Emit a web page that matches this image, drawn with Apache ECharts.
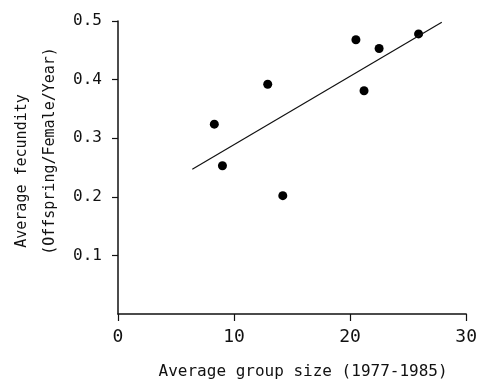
<!DOCTYPE html>
<html>
<head>
<meta charset="utf-8">
<script src="https://cdn.jsdelivr.net/npm/echarts@6/dist/echarts.min.js"></script>
<style>
  html, body { margin: 0; padding: 0; background: #fff; }
  #chart { width: 480px; height: 385px; }
</style>
</head>
<body>
<div id="chart"></div>
<script>
// group size (x) vs fecundity (y)
const groupSize = [8.3, 9.0, 12.9, 14.2, 20.5, 21.2, 22.5, 25.9];
const fecundity = [0.324, 0.253, 0.392, 0.202, 0.468, 0.381, 0.453, 0.478];

// fitted regression line end points
const fitX = [6.4, 27.9];
const fitY = [0.247, 0.498];

const xTicks = [0, 10, 20, 30];
const yTicks = [0.1, 0.2, 0.3, 0.4, 0.5];

// lettering in the original is near-monospaced
const font = "DejaVu Sans Mono";

const chart = echarts.init(document.getElementById("chart"));

chart.setOption({
    backgroundColor: "#fff",
    animation: false,
    grid: { left: 118, right: 13, top: 21, bottom: 69 },
    xAxis: {
        type: "value",
        min: xTicks[0],
        max: xTicks[xTicks.length - 1],
        interval: 10,
        splitLine: { show: false },
        axisLine: { lineStyle: { color: "#111", width: 1.5 } },
        axisTick: { length: 7, lineStyle: { color: "#111", width: 1.2 } },
        axisLabel: { color: "#111", fontFamily: font, fontSize: 18, margin: 14 },
        name: "Average group size (1977-1985)",
        nameLocation: "middle",
        nameGap: 50,
        nameTextStyle: {
            color: "#111", fontFamily: font, fontSize: 16,
            padding: [0, 0, 0, 22]
        }
    },
    yAxis: {
        type: "value",
        min: 0,
        max: yTicks[yTicks.length - 1],
        interval: 0.1,
        splitLine: { show: false },
        axisLine: { lineStyle: { color: "#111", width: 1.5 } },
        // no tick or label at 0 in the original
        axisTick: {
            customValues: yTicks,
            length: 6,
            lineStyle: { color: "#111", width: 1.2 }
        },
        axisLabel: {
            customValues: yTicks,
            color: "#111", fontFamily: font, fontSize: 16, margin: 16,
            formatter: v => v.toFixed(1)
        }
    },
    graphic: [
        {
            type: "text", x: 22, y: 171, rotation: Math.PI / 2,
            style: {
                text: "Average fecundity", fill: "#111",
                font: "15px " + font, align: "center", verticalAlign: "middle"
            }
        },
        {
            type: "text", x: 50, y: 151, rotation: Math.PI / 2,
            style: {
                text: "(Offspring/Female/Year)", fill: "#111",
                font: "15px " + font, align: "center", verticalAlign: "middle"
            }
        }
    ],
    series: [
        {
            type: "line",
            data: fitX.map((x, i) => [x, fitY[i]]),
            symbol: "none",
            lineStyle: { color: "#111", width: 1.2 },
            silent: true
        },
        {
            type: "scatter",
            data: groupSize.map((x, i) => [x, fecundity[i]]),
            symbolSize: 9,
            itemStyle: { color: "#000", opacity: 1 }
        }
    ]
});
</script>
</body>
</html>
